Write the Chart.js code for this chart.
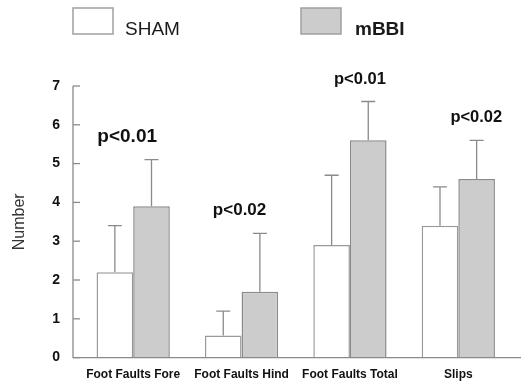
<!DOCTYPE html>
<html>
<head>
<meta charset="utf-8">
<script src="https://cdn.jsdelivr.net/npm/chart.js@4"></script>
<style>
  html, body { margin: 0; padding: 0; background: #fff; }
  #wrap { width: 521px; height: 385px; }
</style>
</head>
<body>
<div id="wrap"><canvas id="barChart"></canvas></div>
<script>
// The data represented
const categories = ["Foot Faults Fore", "Foot Faults Hind", "Foot Faults Total", "Slips"];
const shamValues = [2.2, 0.57, 2.9, 3.4];
const shamErrors = [1.2, 0.63, 1.8, 1.0];
const mbbiValues = [3.9, 1.7, 5.6, 4.6];
const mbbiErrors = [1.2, 1.5, 1.0, 1.0];
const pLabels = ["p<0.01", "p<0.02", "p<0.01", "p<0.02"];
const yTicks = [0, 1, 2, 3, 4, 5, 6, 7];

// layout tweaks for the p-value labels (not data)
const pNudge = [-6, -2, 10, 18];
const pSize = [19, 17, 16.5, 16.5];

const axisColor = "#8a8a8a";

// Draws axis lines, error bars, p labels and the legend
const extrasPlugin = {
  id: "extras",
  afterDatasetsDraw(chart) {
    const { ctx, scales } = chart;
    const y = scales.y;
    const x0 = 73;
    const yBottom = y.getPixelForValue(0);

    ctx.save();
    ctx.strokeStyle = axisColor;
    ctx.lineWidth = 1.3;
    // y axis
    ctx.beginPath();
    ctx.moveTo(x0, y.getPixelForValue(7));
    ctx.lineTo(x0, yBottom);
    // x axis
    ctx.lineTo(521, yBottom);
    ctx.stroke();
    // tick marks
    yTicks.forEach((t) => {
      const py = y.getPixelForValue(t);
      ctx.beginPath();
      ctx.moveTo(x0, py);
      ctx.lineTo(x0 + 7, py);
      ctx.stroke();
    });

    // error bars (upper only)
    const errs = [shamErrors, mbbiErrors];
    chart.data.datasets.forEach((ds, di) => {
      const meta = chart.getDatasetMeta(di);
      meta.data.forEach((bar, i) => {
        const top = y.getPixelForValue(ds.data[i] + errs[di][i]);
        ctx.beginPath();
        ctx.moveTo(bar.x, bar.y);
        ctx.lineTo(bar.x, top);
        ctx.moveTo(bar.x - 7, top);
        ctx.lineTo(bar.x + 7, top);
        ctx.stroke();
      });
    });

    // p value labels
    ctx.fillStyle = "#111";
    ctx.textAlign = "center";
    ctx.textBaseline = "alphabetic";
    pLabels.forEach((lbl, i) => {
      const hi = Math.max(shamValues[i] + shamErrors[i], mbbiValues[i] + mbbiErrors[i]);
      const cx = scales.x.getPixelForValue(i) + pNudge[i];
      ctx.font = "bold " + pSize[i] + "px 'Liberation Sans', Arial, sans-serif";
      ctx.fillText(lbl, cx, y.getPixelForValue(hi) - 18);
    });

    // legend
    const items = [
      { x: 73, label: "SHAM", bold: false, ds: chart.data.datasets[0] },
      { x: 301, label: "mBBI", bold: true, ds: chart.data.datasets[1] },
    ];
    items.forEach((it) => {
      ctx.fillStyle = it.ds.backgroundColor;
      ctx.fillRect(it.x, 8, 40, 26);
      ctx.strokeStyle = "#a0a0a0";
      ctx.lineWidth = 1.5;
      ctx.strokeRect(it.x, 8, 40, 26);
      ctx.fillStyle = "#1a1a1a";
      ctx.textAlign = "left";
      ctx.textBaseline = "alphabetic";
      ctx.font = (it.bold ? "bold " : "") + "19px 'Liberation Sans', Arial, sans-serif";
      ctx.fillText(it.label, it.x + (it.bold ? 54 : 52), 35);
    });
    ctx.restore();
  },
};

const config = {
  type: "bar",
  data: {
    labels: categories,
    datasets: [
      {
        label: "SHAM",
        data: shamValues,
        backgroundColor: "#ffffff",
        borderColor: "#9a9a9a",
        borderWidth: 1.5,
      },
      {
        label: "mBBI",
        data: mbbiValues,
        backgroundColor: "#cccccc",
        borderColor: "#8a8a8a",
        borderWidth: 1.5,
      },
    ],
  },
  options: {
    responsive: true,
    maintainAspectRatio: false,
    animation: false,
    layout: { padding: { top: 86, right: 8.5, left: 0, bottom: 0 } },
    categoryPercentage: 0.676,
    barPercentage: 1,
    plugins: {
      legend: { display: false },
      tooltip: { enabled: false },
    },
    scales: {
      x: {
        grid: { display: false, drawTicks: false },
        border: { display: false },
        ticks: {
          padding: 10,
          color: "#111",
          font: { family: "'Liberation Sans', Arial, sans-serif", size: 12, weight: "bold" },
          maxRotation: 0,
          autoSkip: false,
        },
        afterFit: (s) => { s.height = 24.3; },
      },
      y: {
        min: 0,
        max: 7,
        grid: { display: false, drawTicks: false },
        border: { display: false },
        ticks: {
          stepSize: 1,
          padding: 19,
          color: "#111",
          font: { family: "'Liberation Sans', Arial, sans-serif", size: 14, weight: "bold" },
        },
        title: {
          display: true,
          text: "Number",
          color: "#333",
          padding: { top: 10, bottom: 0 },
          font: { family: "'Liberation Sans', Arial, sans-serif", size: 16 },
        },
        afterFit: (s) => { s.width = 79; },
      },
    },
  },
  plugins: [extrasPlugin],
};

const barChart = new Chart(document.querySelector("#barChart"), config);
</script>
</body>
</html>
